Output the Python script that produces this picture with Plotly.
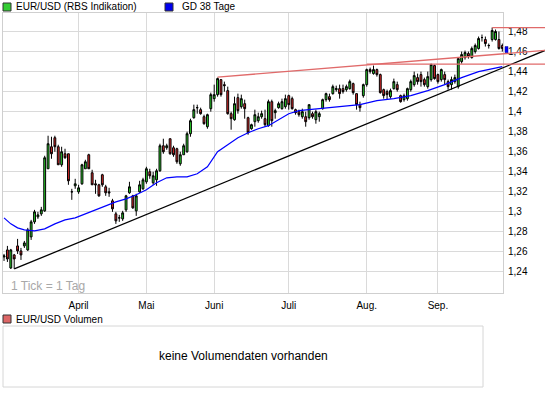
import plotly.graph_objects as go

W, H = 545, 395

# ---- data: EUR/USD daily candles (trading-day index 0..147) ----
open_ = [1.255,1.262,1.244,1.257,1.266,1.261,1.266,1.262,1.275,1.290,
         1.295,1.298,1.301,1.343,1.365,1.374,1.365,1.347,1.358,1.358,
         1.320,1.326,1.320,1.328,1.343,1.357,1.339,1.328,1.327,1.337,
         1.325,1.320,1.311,1.298,1.294,1.293,1.302,1.319,1.316,1.301,
         1.320,1.323,1.330,1.340,1.329,1.332,1.341,1.366,1.364,1.373,
         1.364,1.363,1.348,1.357,1.360,1.378,1.394,1.404,1.402,1.395,
         1.385,1.403,1.413,1.417,1.432,1.427,1.421,1.398,1.392,1.414,
         1.405,1.408,1.394,1.383,1.390,1.391,1.395,1.393,1.386,1.410,
         1.399,1.404,1.403,1.405,1.416,1.413,1.402,1.400,1.395,1.395,
         1.394,1.398,1.392,1.395,1.403,1.412,1.415,1.418,1.422,1.423,
         1.423,1.422,1.423,1.428,1.418,1.407,1.416,1.427,1.442,1.438,
         1.442,1.437,1.422,1.420,1.415,1.423,1.427,1.416,1.412,1.413,
         1.422,1.427,1.434,1.437,1.432,1.425,1.432,1.446,1.437,1.432,
         1.437,1.430,1.427,1.430,1.425,1.450,1.454,1.458,1.454,1.460,
         1.463,1.474,1.472,1.466,1.472,1.472,1.472,1.466]
high = [1.258,1.266,1.263,1.258,1.273,1.264,1.271,1.284,1.292,1.302,
        1.300,1.305,1.356,1.376,1.375,1.376,1.367,1.365,1.363,1.358,
        1.323,1.333,1.327,1.348,1.352,1.358,1.342,1.332,1.328,1.338,
        1.327,1.324,1.313,1.300,1.297,1.301,1.317,1.330,1.317,1.318,
        1.331,1.334,1.345,1.343,1.340,1.343,1.368,1.373,1.368,1.373,
        1.366,1.364,1.360,1.368,1.380,1.393,1.407,1.407,1.404,1.397,
        1.398,1.419,1.427,1.434,1.432,1.430,1.425,1.400,1.415,1.418,
        1.417,1.412,1.395,1.388,1.402,1.399,1.401,1.402,1.412,1.412,
        1.403,1.410,1.413,1.417,1.417,1.415,1.403,1.402,1.403,1.400,
        1.407,1.400,1.402,1.400,1.413,1.419,1.418,1.427,1.426,1.427,
        1.427,1.427,1.432,1.429,1.418,1.410,1.428,1.443,1.444,1.446,
        1.443,1.438,1.423,1.422,1.423,1.433,1.430,1.417,1.418,1.424,
        1.432,1.440,1.438,1.440,1.434,1.440,1.448,1.447,1.438,1.443,
        1.440,1.432,1.435,1.437,1.454,1.460,1.461,1.460,1.465,1.468,
        1.475,1.477,1.475,1.468,1.484,1.482,1.480,1.468]
low = [1.251,1.250,1.243,1.243,1.258,1.252,1.264,1.261,1.272,1.288,
       1.293,1.296,1.300,1.343,1.353,1.360,1.347,1.345,1.353,1.327,
       1.312,1.323,1.318,1.327,1.343,1.343,1.327,1.318,1.315,1.325,
       1.316,1.315,1.300,1.288,1.290,1.291,1.300,1.318,1.303,1.296,
       1.319,1.322,1.328,1.333,1.327,1.326,1.340,1.358,1.362,1.357,
       1.355,1.348,1.346,1.357,1.359,1.375,1.393,1.398,1.397,1.387,
       1.383,1.400,1.410,1.415,1.415,1.420,1.397,1.382,1.391,1.398,
       1.403,1.393,1.377,1.382,1.385,1.389,1.393,1.385,1.385,1.385,
       1.393,1.403,1.402,1.403,1.402,1.402,1.397,1.395,1.393,1.385,
       1.392,1.393,1.388,1.390,1.402,1.410,1.410,1.417,1.420,1.413,
       1.418,1.420,1.422,1.417,1.402,1.400,1.414,1.425,1.438,1.437,
       1.435,1.418,1.413,1.412,1.413,1.422,1.420,1.409,1.410,1.411,
       1.420,1.425,1.427,1.425,1.425,1.423,1.430,1.432,1.428,1.430,
       1.427,1.422,1.422,1.428,1.423,1.448,1.452,1.453,1.453,1.458,
       1.462,1.470,1.465,1.463,1.470,1.471,1.462,1.460]
close = [1.256,1.253,1.262,1.253,1.261,1.257,1.269,1.282,1.290,1.300,
         1.297,1.302,1.354,1.368,1.358,1.365,1.347,1.360,1.354,1.331,
         1.320,1.328,1.324,1.347,1.350,1.343,1.327,1.327,1.316,1.327,
         1.319,1.319,1.303,1.291,1.294,1.299,1.316,1.325,1.304,1.316,
         1.327,1.332,1.343,1.336,1.336,1.341,1.366,1.360,1.366,1.358,
         1.357,1.350,1.357,1.366,1.378,1.391,1.402,1.404,1.398,1.388,
         1.397,1.417,1.417,1.433,1.417,1.426,1.398,1.393,1.408,1.401,
         1.413,1.403,1.379,1.387,1.397,1.395,1.398,1.387,1.410,1.391,
         1.401,1.408,1.410,1.413,1.407,1.403,1.399,1.397,1.400,1.390,
         1.407,1.395,1.400,1.398,1.412,1.418,1.412,1.425,1.423,1.418,
         1.420,1.425,1.430,1.419,1.407,1.404,1.427,1.442,1.440,1.442,
         1.437,1.419,1.416,1.417,1.421,1.430,1.422,1.410,1.416,1.423,
         1.430,1.436,1.430,1.430,1.427,1.435,1.447,1.433,1.430,1.442,
         1.432,1.425,1.432,1.434,1.453,1.457,1.459,1.455,1.463,1.466,
         1.473,1.474,1.468,1.466,1.481,1.480,1.463,1.463]
days = list(range(len(close)))

# 38-day moving average ("GD 38 Tage"), read at sampled trading days
ma_idx = [0, 2, 4, 6, 9, 12, 15, 18, 21, 24, 27, 30, 33, 36, 39, 42, 45, 48,
          51, 54, 57, 60, 63, 66, 69, 72, 75, 78, 81, 84, 87, 90, 95, 100,
          105, 110, 115, 120, 125, 130, 135, 140, 145, 147]
ma_val = [1.294, 1.288, 1.284, 1.282, 1.281, 1.283, 1.288, 1.292, 1.294,
          1.298, 1.302, 1.306, 1.310, 1.313, 1.317, 1.322, 1.329, 1.334,
          1.335, 1.335, 1.338, 1.345, 1.360, 1.367, 1.374, 1.379, 1.383,
          1.386, 1.392, 1.398, 1.401, 1.402, 1.403, 1.405, 1.407, 1.411,
          1.413, 1.416, 1.421, 1.427, 1.434, 1.440, 1.444, 1.445]

# month labels and the trading-day index where each month starts
month_labels = ["April", "Mai", "Juni", "Juli", "Aug.", "Sep."]
month_start = [22, 42, 62, 84, 107, 128]

y_ticks = [1.24, 1.26, 1.28, 1.30, 1.32, 1.34, 1.36, 1.38, 1.40, 1.42, 1.44, 1.46, 1.48]
y_labels = ["1,24", "1,26", "1,28", "1,3", "1,32", "1,34", "1,36", "1,38",
            "1,4", "1,42", "1,44", "1,46", "1,48"]

# trend lines (index, price) anchor points
support_pts = [(3, 1.243), (147, 1.4436)]
resist_pts = [(63, 1.4345), (109, 1.4472)]
aug_high = (107, 1.4475)
sep_high = (144, 1.484)
last_price = 1.462

# ---- layout geometry (pixels) ----
PX0, PX1 = 3, 503
PY0, PY1 = 13, 293
XR = [-0.3, 147.2]
YR = [1.219, 1.4985]
xd0, xd1 = PX0 / W, PX1 / W


def px(x):
    return x / W


def py(y):
    return 1 - y / H


def idx_to_paper(i):
    return xd0 + (i - XR[0]) / (XR[1] - XR[0]) * (xd1 - xd0)


idx_right = XR[0] + (1.0 - xd0) / (xd1 - xd0) * (XR[1] - XR[0])


def line_at(pts, i):
    (a, pa), (b, pb) = pts
    return pa + (pb - pa) * (i - a) / (b - a)


fig = go.Figure()

fig.add_trace(go.Candlestick(
    x=days, open=open_, high=high, low=low, close=close,
    increasing=dict(fillcolor="#2ad42a", line=dict(color="black", width=1)),
    decreasing=dict(fillcolor="#e02a2a", line=dict(color="black", width=1)),
    whiskerwidth=0, showlegend=False, hoverinfo="skip",
))

fig.add_trace(go.Scatter(
    x=ma_idx, y=ma_val, mode="lines",
    line=dict(color="#0000ff", width=1.2), showlegend=False, hoverinfo="skip",
))

shapes = []
# support (black) and resistance (red) lines extended to the right edge
shapes.append(dict(type="line", xref="paper", yref="y",
                   x0=idx_to_paper(support_pts[0][0]), y0=support_pts[0][1],
                   x1=1.0, y1=line_at(support_pts, idx_right),
                   line=dict(color="black", width=1.3)))
shapes.append(dict(type="line", xref="paper", yref="y",
                   x0=idx_to_paper(resist_pts[0][0]), y0=resist_pts[0][1],
                   x1=1.0, y1=line_at(resist_pts, idx_right),
                   line=dict(color="#e06a6a", width=1.3)))
shapes.append(dict(type="line", xref="paper", yref="y",
                   x0=idx_to_paper(aug_high[0]), y0=aug_high[1],
                   x1=1.0, y1=aug_high[1],
                   line=dict(color="#e06a6a", width=1.3)))
shapes.append(dict(type="line", xref="paper", yref="y",
                   x0=idx_to_paper(sep_high[0]), y0=sep_high[1],
                   x1=1.0, y1=sep_high[1],
                   line=dict(color="#e06a6a", width=1.3)))
# last price marker
shapes.append(dict(type="rect", xref="paper", yref="y",
                   x0=px(505), x1=px(508), y0=last_price - 0.003, y1=last_price + 0.003,
                   fillcolor="#0000ff", line=dict(color="#000088", width=0.5)))
# legend squares
shapes.append(dict(type="rect", xref="paper", yref="paper",
                   x0=px(3), x1=px(11), y0=py(11), y1=py(3),
                   fillcolor="#33cc33", line=dict(color="#333333", width=1)))
shapes.append(dict(type="rect", xref="paper", yref="paper",
                   x0=px(165), x1=px(173), y0=py(11), y1=py(3),
                   fillcolor="#0000ee", line=dict(color="#333333", width=1)))
shapes.append(dict(type="rect", xref="paper", yref="paper",
                   x0=px(3), x1=px(11), y0=py(323), y1=py(315),
                   fillcolor="#dd6666", line=dict(color="#333333", width=1)))
# volume panel box
shapes.append(dict(type="rect", xref="paper", yref="paper",
                   x0=px(3), x1=px(483), y0=py(387), y1=py(326),
                   fillcolor="white", line=dict(color="#d6d6d6", width=1)))

FONT = "Arial, Liberation Sans, sans-serif"
annotations = [
    dict(text="EUR/USD (RBS Indikation)", x=px(14), y=py(7), xref="paper", yref="paper",
         xanchor="left", yanchor="middle", showarrow=False, font=dict(size=10, color="black")),
    dict(text="GD 38 Tage", x=px(180), y=py(7), xref="paper", yref="paper",
         xanchor="left", yanchor="middle", showarrow=False, font=dict(size=10, color="black")),
    dict(text="1 Tick = 1 Tag", x=px(9), y=py(286), xref="paper", yref="paper",
         xanchor="left", yanchor="middle", showarrow=False, font=dict(size=12, color="#a8a8a8")),
    dict(text="EUR/USD Volumen", x=px(14), y=py(319), xref="paper", yref="paper",
         xanchor="left", yanchor="middle", showarrow=False, font=dict(size=10, color="black")),
    dict(text="keine Volumendaten vorhanden", x=px(243), y=py(356), xref="paper", yref="paper",
         xanchor="center", yanchor="middle", showarrow=False, font=dict(size=12, color="black")),
]

fig.update_layout(
    width=W, height=H, autosize=False,
    margin=dict(l=0, r=0, t=0, b=0),
    paper_bgcolor="white", plot_bgcolor="white",
    font=dict(family=FONT, size=10, color="black"),
    showlegend=False,
    boxgap=0.22,
    shapes=shapes, annotations=annotations,
    xaxis=dict(
        domain=[xd0, xd1], range=XR, type="linear",
        tickvals=month_start, ticktext=month_labels,
        ticks="outside", ticklen=3, tickcolor="rgba(0,0,0,0)",
        showgrid=True, gridcolor="#dadada", gridwidth=1,
        showline=True, mirror=True, linecolor="#cfcfcf", linewidth=1,
        zeroline=False, rangeslider=dict(visible=False), fixedrange=True,
        tickfont=dict(size=10),
    ),
    yaxis=dict(
        domain=[py(PY1), py(PY0)], range=YR, side="right",
        tickvals=y_ticks, ticktext=y_labels,
        ticks="outside", ticklen=2, tickcolor="rgba(0,0,0,0)",
        showgrid=True, gridcolor="#dadada", gridwidth=1,
        showline=True, mirror=True, linecolor="#cfcfcf", linewidth=1,
        zeroline=False, fixedrange=True, tickfont=dict(size=10),
    ),
)

fig.write_html("out.html", config=dict(displayModeBar=False),
               post_script="document.body.style.margin='0px';document.body.style.overflow='hidden';")
